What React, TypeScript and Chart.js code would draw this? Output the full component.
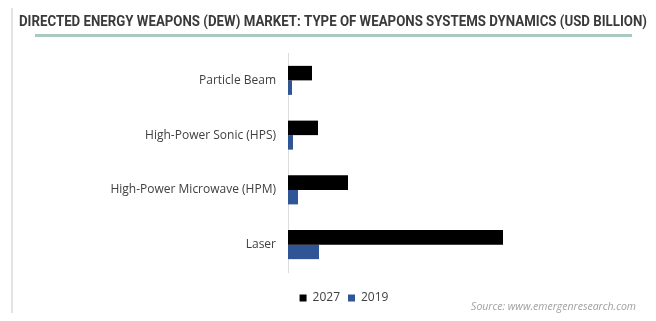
import React, { useEffect, useRef } from "react";
import { Chart, registerables } from "chart.js";

Chart.register(...registerables);

const categories = [
  "Particle Beam",
  "High-Power Sonic (HPS)",
  "High-Power Microwave (HPM)",
  "Laser",
];
const values2027 = [2.4, 3.0, 6.0, 21.5];
const values2019 = [0.4, 0.5, 1.0, 3.1];
const seriesLabels = ["2027", "2019"];
const titleText =
  "DIRECTED ENERGY WEAPONS (DEW) MARKET: TYPE OF WEAPONS SYSTEMS DYNAMICS (USD BILLION)";
const sourceText = "Source: www.emergenresearch.com";

const decorPlugin = {
  id: "decor",
  afterLayout(chart: any) {
    if (chart.legend) {
      chart.legend.left += 24;
      chart.legend.right += 24;
      chart.legend.top += 12;
      chart.legend.bottom += 12;
    }
  },
  beforeDraw(chart: any) {
    const ctx = chart.ctx;
    ctx.save();
    ctx.fillStyle = "#ffffff";
    ctx.fillRect(0, 0, chart.width, chart.height);
    // frame
    ctx.strokeStyle = "#e3e3e3";
    ctx.lineWidth = 2;
    ctx.strokeRect(12, 5, 641, 313);
    // title
    ctx.fillStyle = "#3a3a3a";
    ctx.font = "bold 14px Roboto";
    ctx.textAlign = "center";
    ctx.textBaseline = "middle";
    ctx.fillText(titleText, 333, 22, 628);
    // green rule
    ctx.fillStyle = "#a9cbbf";
    ctx.fillRect(35, 34, 597, 3);
    // source
    ctx.fillStyle = "#a0a0a0";
    ctx.font = "italic 10.5px 'Open Sans'";
    ctx.textAlign = "right";
    ctx.fillText(sourceText, 636, 307);
    ctx.restore();
  },
};

export default function App() {
  const ref = useRef<HTMLCanvasElement>(null);
  useEffect(() => {
    const chart = new Chart(ref.current!, {
      type: "bar",
      data: {
        labels: categories,
        datasets: [
          {
            label: seriesLabels[0],
            data: values2027,
            backgroundColor: "#000000",
            categoryPercentage: 0.53,
            barPercentage: 1,
          },
          {
            label: seriesLabels[1],
            data: values2019,
            backgroundColor: "#2f5597",
            categoryPercentage: 0.53,
            barPercentage: 1,
          },
        ],
      },
      plugins: [decorPlugin],
      options: {
        indexAxis: "y",
        responsive: false,
        animation: false,
        layout: { padding: { top: 53, bottom: 19, left: 0, right: 16 } },
        scales: {
          x: { display: false, min: 0, max: 35.2 },
          y: {
            grid: { display: false, drawTicks: false },
            border: { display: true, color: "#dcdcdc", width: 1 },
            ticks: {
              color: "#404040",
              font: { family: "'Open Sans'", size: 12 },
              padding: 12,
            },
            afterFit(scale: any) {
              scale.width = 288;
            },
          },
        },
        plugins: {
          legend: {
            position: "bottom",
            labels: {
              boxWidth: 7,
              boxHeight: 7,
              color: "#404040",
              font: { family: "'Open Sans'", size: 12 },
              padding: 8,
            },
          },
          tooltip: { enabled: false },
        },
      },
    });
    return () => chart.destroy();
  }, []);
  return (
    <div style={{ margin: -8, width: 656, height: 321 }}>
      <canvas ref={ref} width={656} height={321} style={{ display: "block" }} />
    </div>
  );
}
